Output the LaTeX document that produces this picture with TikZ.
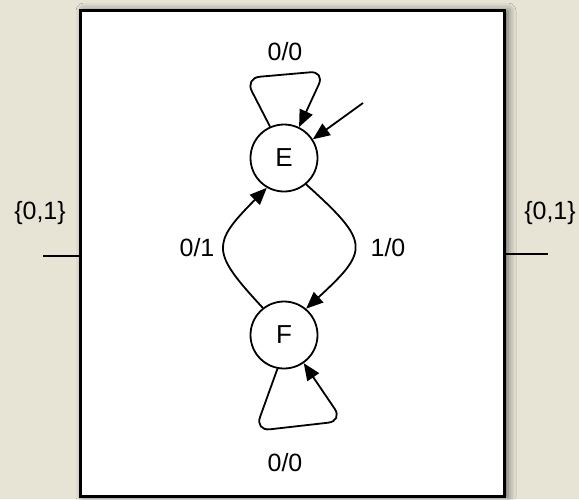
\documentclass[tikz,border=0pt]{standalone}
\usepackage{fontspec}
\setmainfont{Liberation Sans}
\usetikzlibrary{arrows.meta,shadows.blur}
\definecolor{paper}{RGB}{231,228,214}
\newcommand\labfont{\fontsize{25}{29}\selectfont}
\begin{document}
\begin{tikzpicture}[x=1pt,y=-1pt,
  machine/.style={draw=black, line width=3pt, fill=white, inner sep=0pt,
    minimum width=424pt, minimum height=486pt,
    blur shadow={shadow xshift=4pt, shadow yshift=-1pt, shadow blur radius=8pt, shadow opacity=60}},
  state/.style={draw=black, circle, line width=1.8pt, fill=white, inner sep=0pt,
    minimum size=67pt, font=\fontsize{26}{30}\selectfont},
  lbl/.style={inner sep=0pt, font=\labfont},
  trans/.style={line width=1.8pt, -{Triangle[length=17pt,width=14pt]}},
  wire/.style={line width=1.8pt}]
% paper background
\fill[paper] (0,0) rectangle (579,499);
\useasboundingbox (0,0) rectangle (579,499);

% machine outline
\node[machine] (box) at (292,253) {};

% states
\node[state] (E) at (284,158) {E};
\node[state] (F) at (284,335) {F};

% input and output wires
\coordinate (inL) at (43,256);
\coordinate (outR) at (548,254);
\draw[wire] (inL) -- (inL -| box.west);
\draw[wire] (box.east |- outR) -- (outR);
\node[lbl] (inlab) at (40,213) {\{0,1\}};
\node[lbl] (outlab) at (550,213) {\{0,1\}};

% start arrow
\coordinate (init) at (363,103);
\draw[trans] (init) -- (E.33);

% self loops
\draw[trans, rounded corners=15pt] (E.114) -- (245,78) -- (325,71) -- (E.64);
\draw[trans, rounded corners=15pt] (F.259) -- (255,431) -- (343,421) -- (F.305);
\node[lbl] (lE) at (285,52) {0/0};
\node[lbl] (lF) at (285,463) {0/0};

% transitions between the states
\draw[trans] (E.-50) .. controls (370,242) and (370,250) .. (F.50);
\draw[trans] (F.128) .. controls (211,252) and (211,244) .. (E.-120);
\node[lbl] (lEF) at (388,248) {1/0};
\node[lbl] (lFE) at (197,248) {0/1};
\end{tikzpicture}
\end{document}
